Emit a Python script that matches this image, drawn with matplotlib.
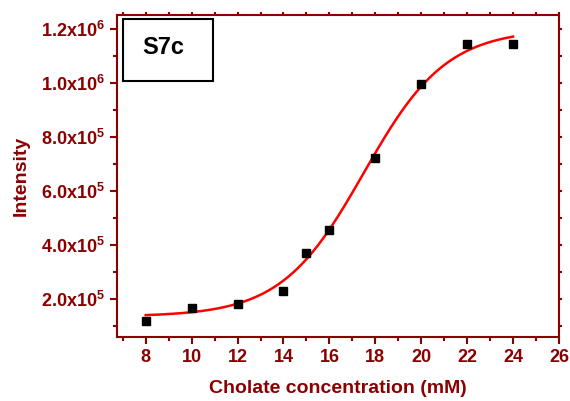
import numpy as np
import matplotlib
matplotlib.use("Agg")
import matplotlib.pyplot as plt
from matplotlib.patches import Rectangle

plt.rcParams['font.family'] = ['Liberation Sans', 'DejaVu Sans']
plt.rcParams['mathtext.fontset'] = 'custom'
plt.rcParams['mathtext.rm'] = 'Liberation Sans:bold'
plt.rcParams['mathtext.bf'] = 'Liberation Sans:bold'

DARKRED = '#8b0000'

# measured points
conc_mM = [8, 10, 12, 14, 15, 16, 18, 20, 22, 24]
intensity = [1.19e5, 1.67e5, 1.83e5, 2.30e5, 3.70e5, 4.55e5, 7.22e5, 0.996e6, 1.144e6, 1.146e6]

# Boltzmann fit parameters
fit_A1 = 1.35e5
fit_A2 = 1.20e6
fit_x0 = 17.5
fit_dx = 1.8

xticks = [8, 10, 12, 14, 16, 18, 20, 22, 24, 26]
yticks = [2e5, 4e5, 6e5, 8e5, 1.0e6, 1.2e6]
ytick_labels = [r'$\mathbf{2.0x10^5}$', r'$\mathbf{4.0x10^5}$', r'$\mathbf{6.0x10^5}$',
                r'$\mathbf{8.0x10^5}$', r'$\mathbf{1.0x10^6}$', r'$\mathbf{1.2x10^6}$']

fig = plt.figure(figsize=(5.70, 4.01), dpi=100)
ax = fig.add_axes([117/570, 1 - 337/401, (559-117)/570, (337-15)/401])

xfit = np.linspace(8, 24, 300)
yfit = fit_A2 + (fit_A1 - fit_A2) / (1 + np.exp((xfit - fit_x0) / fit_dx))
ax.plot(xfit, yfit, color='red', lw=1.8, zorder=2)
ax.plot(conc_mM, intensity, 's', color='black', ms=6, zorder=3)

ax.set_xlim(6.75, 26)
ax.set_ylim(0.593e5, 1.252e6)
ax.set_xticks(xticks)
ax.set_xticks(np.arange(7, 26, 1), minor=True)
ax.set_yticks(yticks)
ax.set_yticklabels(ytick_labels)
ax.set_yticks(np.arange(1e5, 1.25e6, 1e5), minor=True)

for s in ax.spines.values():
    s.set_color(DARKRED)
    s.set_linewidth(1.5)
ax.tick_params(which='both', direction='out', color=DARKRED, width=1.5,
               labelsize=13, labelcolor=DARKRED)
ax.tick_params(which='major', length=5)
ax.tick_params(which='minor', length=3)
# small mirrored ticks on top/right
ax.tick_params(which='both', axis='x', top=True, labeltop=False)
ax.tick_params(which='both', axis='y', right=True, labelright=False)
for t in ax.xaxis.get_major_ticks() + ax.xaxis.get_minor_ticks():
    t.tick2line.set_markersize(2)
for t in ax.yaxis.get_major_ticks() + ax.yaxis.get_minor_ticks():
    t.tick2line.set_markersize(2)
for t in ax.get_xticklabels():
    t.set_fontweight('bold')

ax.set_xlabel('Cholate concentration (mM)', fontsize=14, fontweight='bold', color=DARKRED, labelpad=10)
ax.set_ylabel('Intensity', fontsize=14, fontweight='bold', color=DARKRED, labelpad=8)

box = Rectangle((123/570, 1 - 81/401), (213-123)/570, (81-19)/401, transform=fig.transFigure,
                facecolor='white', edgecolor='black', lw=1.5, zorder=5)
fig.patches.append(box)
fig.text(163/570, 1 - 47/401, 'S7c', fontsize=17, fontweight='bold', ha='center', va='center', zorder=6)

fig.savefig('out.png', dpi=100)
